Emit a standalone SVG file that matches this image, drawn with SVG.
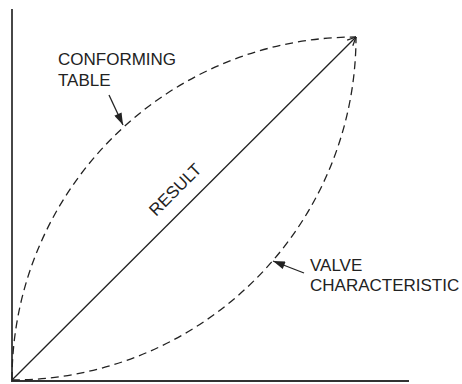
<svg xmlns="http://www.w3.org/2000/svg" width="462" height="384" viewBox="0 0 462 384">
  <style>
    .axis { stroke: #333; stroke-width: 1.8; fill: none; }
    .curve { stroke: #222; stroke-width: 1.3; fill: none; stroke-dasharray: 8 5; }
    .line { stroke: #222; stroke-width: 1.3; fill: none; }
    .label { font-family: "Liberation Sans", Arial, sans-serif; font-size: 17px; fill: #222; }
  </style>
  <defs>
    <marker id="open" viewBox="0 0 10 10" refX="9.5" refY="5" markerWidth="10" markerHeight="10" markerUnits="userSpaceOnUse" orient="auto">
      <path d="M1,1 L9.5,5 L1,9" fill="none" stroke="#222" stroke-width="1.3"/>
    </marker>
    <marker id="solid" viewBox="0 0 12 8" refX="12" refY="4" markerWidth="13" markerHeight="8" markerUnits="userSpaceOnUse" orient="auto">
      <path d="M0,0 L12,4 L0,8 Z" fill="#222"/>
    </marker>
  </defs>

  <!-- axes -->
  <g id="axes">
    <line class="axis" x1="12" y1="9" x2="12" y2="381"/>
    <line class="axis" x1="11" y1="381" x2="409" y2="381"/>
  </g>

  <!-- curves and pointers -->
  <g id="connectors">
    <path id="conforming-curve" class="curve" d="M12,380 A344,343 0 0,1 356,37"/>
    <path id="valve-curve" class="curve" d="M12,380 A344,343 0 0,0 356,37"/>
    <line id="result-line" class="line" x1="12" y1="380" x2="356" y2="37" marker-end="url(#open)"/>
    <line class="line" x1="109" y1="95" x2="123" y2="125" marker-end="url(#solid)"/>
    <line class="line" x1="304" y1="273" x2="273" y2="261" marker-end="url(#solid)"/>
  </g>

  <g id="conforming-table">
    <text class="label" x="58" y="65">CONFORMING</text>
    <text class="label" x="58" y="86">TABLE</text>
  </g>

  <g id="result">
    <text class="label" x="156" y="217" transform="rotate(-45 156 217)">RESULT</text>
  </g>

  <g id="valve-characteristic">
    <text class="label" x="310" y="271">VALVE</text>
    <text class="label" x="310" y="291">CHARACTERISTIC</text>
  </g>
</svg>
